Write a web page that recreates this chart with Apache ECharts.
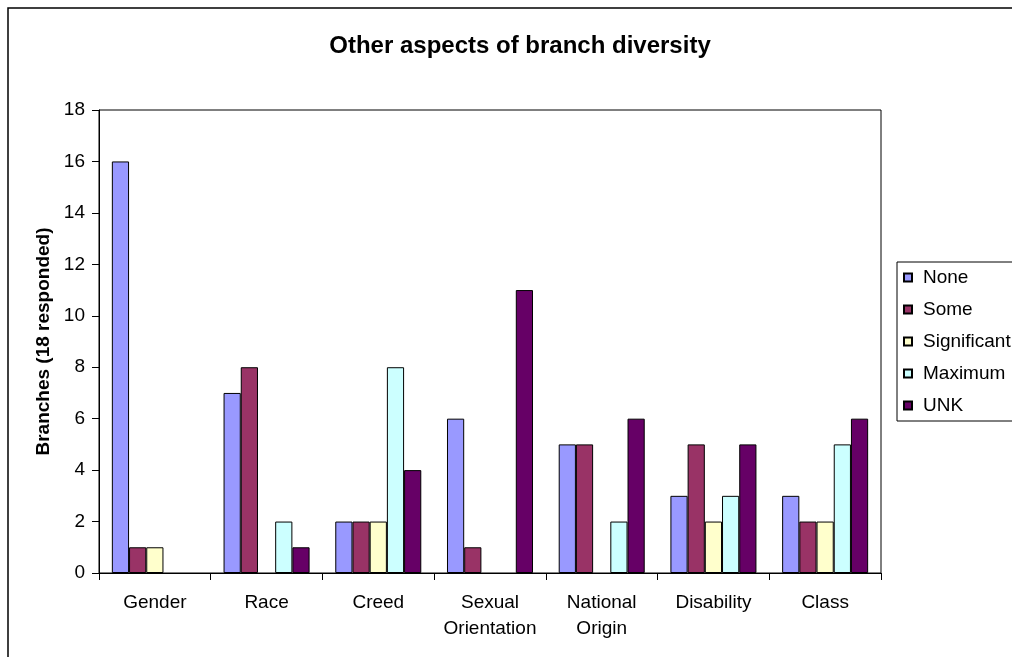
<!DOCTYPE html>
<html><head><meta charset="utf-8">
<script src="https://cdn.jsdelivr.net/npm/echarts@6/dist/echarts.min.js"></script>
<style>html,body{margin:0;padding:0;background:#fff}#c{width:1012px;height:657px}</style>
</head><body><div id="c"></div>
<script>
const categories = ['Gender', 'Race', 'Creed', 'Sexual\nOrientation', 'National\nOrigin', 'Disability', 'Class'];
const seriesNames = ['None', 'Some', 'Significant', 'Maximum', 'UNK'];
const none = [16, 7, 2, 6, 5, 3, 3];
const some = [1, 8, 2, 1, 5, 5, 2];
const significant = [1, 0, 2, 0, 0, 2, 2];
const maximum = [0, 2, 8, 0, 2, 3, 5];
const unk = [0, 1, 4, 11, 6, 5, 6];
const colors = ['#9999FF', '#993366', '#FFFFCC', '#CCFFFF', '#660066'];
const yTicks = [0, 2, 4, 6, 8, 10, 12, 14, 16, 18];

const values = [none, some, significant, maximum, unk];
const font = 'Arial, "Liberation Sans", sans-serif';
const chart = echarts.init(document.getElementById('c'));
chart.setOption({
  animation: false,
  backgroundColor: '#fff',
  title: {
    text: 'Other aspects of branch diversity',
    left: 515, top: 29, textAlign: 'center',
    textStyle: { fontFamily: font, fontSize: 24, fontWeight: 'bold', color: '#000' }
  },
  graphic: [{
    type: 'rect', silent: true, z: -1,
    shape: { x: 8, y: 8, width: 1200, height: 900 },
    style: { fill: 'none', stroke: '#000', lineWidth: 1.5 }
  }],
  legend: {
    orient: 'vertical', left: 897, top: 262,
    padding: [6, 40, 6, 6],
    itemWidth: 8, itemHeight: 8, itemGap: 13,
    borderColor: '#000', borderWidth: 1,
    backgroundColor: '#fff',
    icon: 'rect',
    textStyle: { fontFamily: font, fontSize: 19, color: '#000', lineHeight: 19, padding: [0, 0, 0, 6] },
    data: seriesNames
  },
  grid: { left: 99, top: 110, right: 131, bottom: 84, show: true, borderColor: '#000', borderWidth: 1, containLabel: false },
  xAxis: {
    type: 'category', data: categories,
    axisLine: { lineStyle: { color: '#000', width: 1 } },
    axisTick: { show: true, length: 7, lineStyle: { color: '#000' } },
    axisLabel: { fontFamily: font, fontSize: 19, color: '#000', margin: 17, lineHeight: 26, interval: 0 }
  },
  yAxis: {
    type: 'value', min: 0, max: 18, interval: 2,
    name: 'Branches (18 responded)', nameLocation: 'middle', nameGap: 46, nameRotate: 90,
    nameTextStyle: { fontFamily: font, fontSize: 19, fontWeight: 'bold', color: '#000' },
    axisLine: { show: true, lineStyle: { color: '#000', width: 1 } },
    axisTick: { show: true, length: 7, lineStyle: { color: '#000' } },
    splitLine: { show: false },
    axisLabel: { fontFamily: font, fontSize: 19, color: '#000', margin: 14,
      formatter: v => yTicks.includes(v) ? String(v) : '' }
  },
  series: seriesNames.map((n, i) => ({
    name: n, type: 'bar', data: values[i].map(v => (v === 0 ? null : v)),
    barGap: '0%', barCategoryGap: '23%',
    itemStyle: { color: colors[i], borderColor: '#000', borderWidth: 1 },
    emphasis: { disabled: true }
  }))
});
</script></body></html>
